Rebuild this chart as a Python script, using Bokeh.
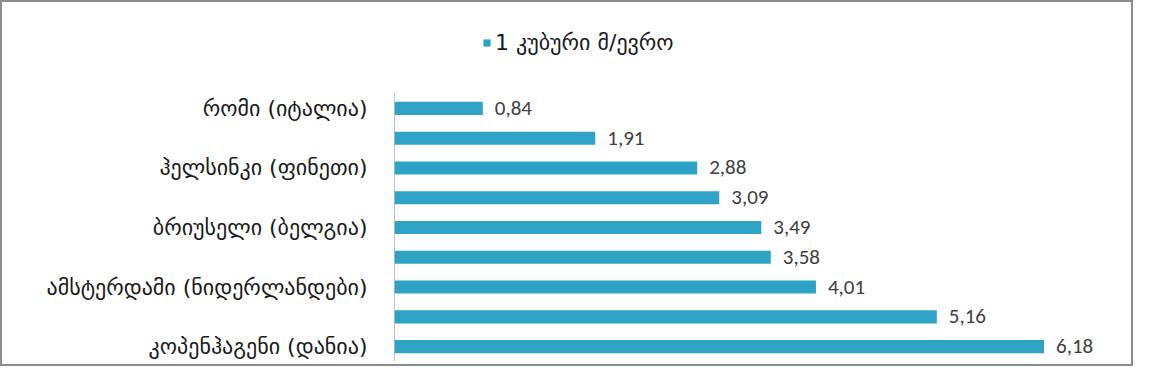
from bokeh.plotting import figure
from bokeh.models import ColumnDataSource, FixedTicker, Legend, LegendItem, Range1d
from bokeh.core.properties import value
from bokeh.embed import file_html
from bokeh.resources import INLINE

# ---- data ----
cities = ["რომი (იტალია)", "", "ჰელსინკი (ფინეთი)", "", "ბრიუსელი (ბელგია)", "",
          "ამსტერდამი (ნიდერლანდები)", "", "კოპენჰაგენი (დანია)"]
prices = [0.84, 1.91, 2.88, 3.09, 3.49, 3.58, 4.01, 5.16, 6.18]
series_name = "1 კუბური მ/ევრო"

n = len(prices)
pos = list(range(n))
labels = [f"{v:.2f}".replace(".", ",") for v in prices]
src = ColumnDataSource(dict(y=pos, v=prices, lab=labels))

BAR = "#2fa3c6"
GEO_FONT = "Sylfaen, DejaVu Sans"
NUM_FONT = "Calibri, Lato"

# frame extends upward to hold the legend (room of ~3 category slots)
p = figure(width=1133, height=366, output_backend="svg", toolbar_location=None,
           x_range=Range1d(0, 6.86), y_range=Range1d(n - 0.5, -3.49),
           min_border_left=392, min_border_right=20, min_border_top=2,
           min_border_bottom=7)
p.styles = {"border": "2px solid #8c8c8c"}
p.outline_line_color = None
p.xgrid.visible = False
p.ygrid.visible = False
p.xaxis.visible = False
p.background_fill_color = None

# axis line spanning only the categories
p.segment(x0=[0], y0=[-0.5], x1=[0], y1=[n - 0.5], line_color="#868686", line_width=1)

r = p.hbar(y="y", right="v", left=0, height=0.44, source=src, fill_color=BAR,
           line_color=None)

p.text(x="v", y="y", text="lab", source=src, x_offset=12,
       text_baseline="middle", text_align="left", text_font_size="21px",
       text_color="#404040", text_font=value(NUM_FONT))

ya = p.yaxis[0]
ya.ticker = FixedTicker(ticks=pos)
ya.major_label_overrides = {i: c for i, c in zip(pos, cities)}
ya.major_tick_line_color = None
ya.minor_tick_line_color = None
ya.axis_line_color = None
ya.major_label_standoff = 21
ya.major_label_text_font = GEO_FONT
ya.major_label_text_font_size = "22px"
ya.major_label_text_color = "#1a1a1a"

leg = Legend(items=[LegendItem(label=series_name, renderers=[r])],
             location=(88, 306), orientation="horizontal",
             border_line_color=None, background_fill_alpha=0, padding=0, margin=0,
             glyph_width=9, glyph_height=9, label_standoff=4,
             label_text_font=GEO_FONT, label_text_font_size="22px",
             label_text_color="#1a1a1a")
p.add_layout(leg, "center")

open("out.html", "w").write(file_html(p, INLINE))
